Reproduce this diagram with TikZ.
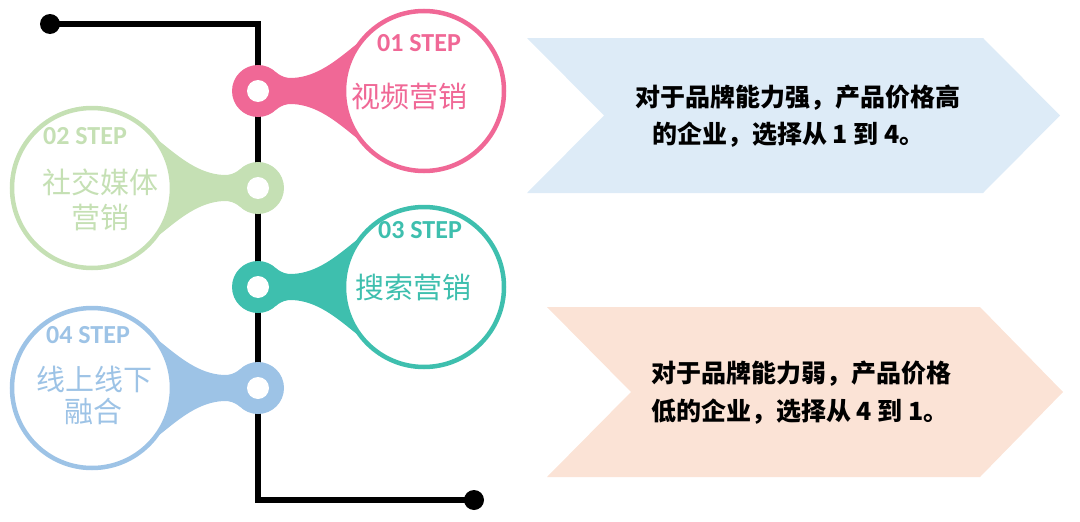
\documentclass[tikz,border=0pt]{standalone}
\usepackage{fontspec}
\newfontfamily\cjkfont{Noto Sans CJK SC}
\newfontfamily\stepfont{Carlito}
\definecolor{pinkc}{HTML}{F06896}
\definecolor{greenc}{HTML}{C5E0B4}
\definecolor{tealc}{HTML}{3EBFAE}
\definecolor{bluec}{HTML}{9DC3E6}
\definecolor{arrowblue}{HTML}{DDEBF7}
\definecolor{arrowpeach}{HTML}{FBE3D6}
\newcommand{\drawstep}[4]{%
  \begin{scope}[shift={(#1,#2)}, xscale=#3]
    \fill[#4] (18,18.7) .. controls (24,14) and (28,13) .. (34,13)
      .. controls (60,14) and (80,32) .. (100,48) -- (140,48) -- (140,-48) -- (100,-48)
      .. controls (80,-32) and (60,-14) .. (34,-13)
      .. controls (28,-13) and (24,-14) .. (18,-18.7) -- (0,0) -- cycle;
    \fill[white] (166,0) circle[radius=80];
    \draw[#4, line width=4.5] (166,0) circle[radius=80];
    \fill[#4] (0,0) circle[radius=26];
    \fill[white] (0,0) circle[radius=11];
  \end{scope}}
\begin{document}
\begin{tikzpicture}[x=1pt,y=-1pt,
  steplabel/.style={inner sep=0, font=\stepfont\bfseries\fontsize{26}{30}\selectfont},
  steptext/.style={inner sep=0, font=\cjkfont\fontsize{29}{34}\selectfont},
  desc/.style={inner sep=0, anchor=west, text=black, font=\cjkfont\bfseries\fontsize{25}{30}\selectfont}]
\useasboundingbox (0,0) rectangle (1080,522);
% arrows
\fill[arrowblue] (527,38) -- (983,38) -- (1060,115.5) -- (983,193) -- (527,193) -- (604,115.5) -- cycle;
\fill[arrowpeach] (547,307) -- (980,307) -- (1063,392) -- (980,477) -- (547,477) -- (631,392) -- cycle;
% black spine
\coordinate (start) at (50,24);
\coordinate (c1) at (258,24);
\coordinate (c2) at (258,500);
\coordinate (end) at (474,500);
\draw[line width=6.5] (start) -- (c1) -- (c2) -- (end);
\fill (start) circle[radius=10];
\fill (end) circle[radius=10];
% steps
\drawstep{258}{91}{1}{pinkc}
\drawstep{258}{188}{-1}{greenc}
\drawstep{258}{287}{1}{tealc}
\drawstep{258}{388}{-1}{bluec}
% labels
\node[steplabel, text=pinkc] (l1) at (419,43) {01 STEP};
\node[steptext, text=pinkc] (t1) at (409,97) {视频营销};
\node[steplabel, text=greenc] (l2) at (85,136) {02 STEP};
\node[steptext, text=greenc] (t2a) at (100,182) {社交媒体};
\node[steptext, text=greenc] (t2b) at (100,218) {营销};
\node[steplabel, text=tealc] (l3) at (420,230) {03 STEP};
\node[steptext, text=tealc] (t3) at (413,288) {搜索营销};
\node[steplabel, text=bluec] (l4) at (88,335) {04 STEP};
\node[steptext, text=bluec] (t4a) at (94,379) {线上线下};
\node[steptext, text=bluec] (t4b) at (93,411) {融合};
% descriptions
\node[desc] (d1a) at (635,98) {对于品牌能力强，产品价格高};
\node[desc] (d1b) at (652,135) {的企业，选择从 1 到 4。};
\node[desc] (d2a) at (651,374) {对于品牌能力弱，产品价格};
\node[desc] (d2b) at (651,412) {低的企业，选择从 4 到 1。};
\end{tikzpicture}
\end{document}
